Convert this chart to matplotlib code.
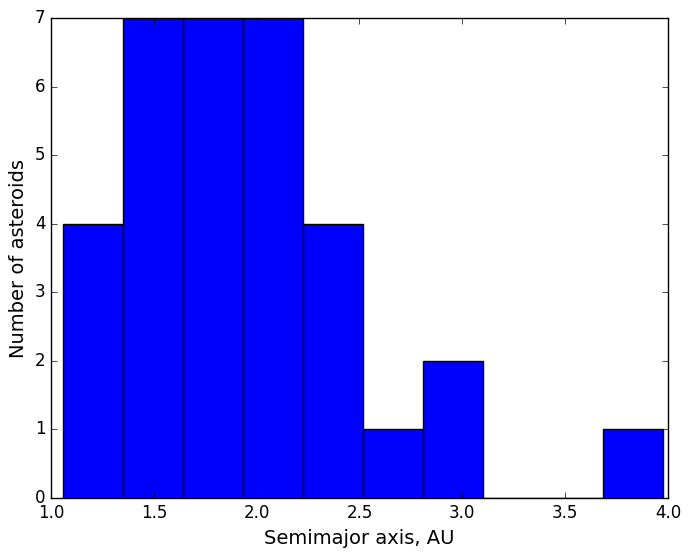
import matplotlib
matplotlib.use('Agg')
import matplotlib.pyplot as plt
import numpy as np

# histogram of semimajor axes (10 bins)
a_min = 1.058
a_max = 3.975
counts = np.array([4, 7, 7, 7, 4, 1, 2, 0, 0, 1])

edges = np.linspace(a_min, a_max, len(counts) + 1)
centers = 0.5 * (edges[:-1] + edges[1:])

plt.style.use('classic')
fig = plt.figure(figsize=(6.92, 5.58), dpi=100)
ax = fig.add_subplot(111)
ax.hist(centers, bins=edges, weights=counts, color='b')
ax.set_xlim(1.0, 4.0)
ax.set_ylim(0, 7)
ax.set_xlabel('Semimajor axis, AU', fontsize=14)
ax.set_ylabel('Number of asteroids', fontsize=14)
fig.subplots_adjust(left=0.0737, right=0.9653, top=0.9677, bottom=0.1075)
fig.savefig('out.png', dpi=100)
